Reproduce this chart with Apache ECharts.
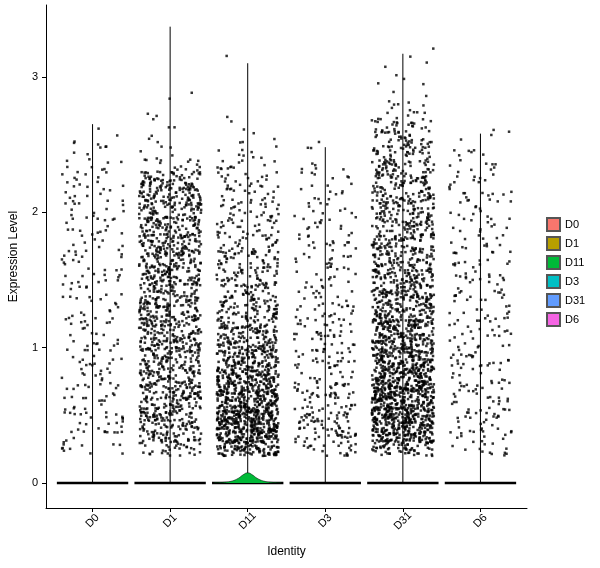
<!DOCTYPE html>
<html><head><meta charset="utf-8">
<script src="https://cdn.jsdelivr.net/npm/echarts@6/dist/echarts.min.js"></script>
<style>html,body{margin:0;padding:0;background:#fff}#c{width:600px;height:568px}</style>
</head><body><div id="c"></div>
<script>
const categories = ['D0','D1','D11','D3','D31','D6'];
const colors = ['#F8766D','#B79F00','#00BA38','#00BFC4','#619CFF','#F564E3'];
const yTicks = [0,1,2,3];
const binStart = 0.2, binWidth = 0.1;
// number of points per 0.1 bin, starting at 0.2
const countsD0  = [10,12,12,12,12,12,12,10,10,10,10,10,10,10,10,10,10,10,10,10,10,8,6,3,1];
const countsD1  = [30,55,60,65,65,65,65,65,65,65,65,65,65,65,65,65,65,65,65,65,60,15,4,3,3,2,2,0,0,0,0];
const countsD11 = [100,150,150,140,125,110,95,80,70,60,50,45,40,35,30,28,25,22,20,18,15,12,8,4,2,1,0,0,0,1];
const countsD3  = [20,30,30,25,22,20,18,18,16,15,15,14,13,12,12,12,11,10,9,8,7,5,2,1];
const countsD31 = [60,120,140,140,140,130,120,110,100,90,80,75,70,65,60,60,55,55,55,50,50,45,40,35,25,10,4,3,2,2,1];
const countsD6  = [12,15,15,15,15,14,14,13,13,13,12,12,12,12,12,11,11,10,10,10,10,8,6,3,1];
const violinMax = [2.65,3.37,3.1,2.48,3.17,2.58];
const d11HumpX = [-0.45,-0.3,-0.2,-0.12,-0.06,0,0.06,0.12,0.2,0.3,0.45];
const d11HumpY = [0,0.005,0.015,0.035,0.06,0.075,0.06,0.035,0.015,0.005,0];

// deterministic jitter placement (layout only)
function h(n){n=Math.imul(n^(n>>>16),0x45d9f3b);n=Math.imul(n^(n>>>16),0x45d9f3b);n^=n>>>16;return (n>>>0)/4294967296;}
const allCounts=[countsD0,countsD1,countsD11,countsD3,countsD31,countsD6];
const pts=[];
let k=1;
allCounts.forEach((cs,ci)=>{
  cs.forEach((n,b)=>{
    for(let i=0;i<n;i++){k++;
      pts.push([ci+(h(k*2+1)-0.5)*0.8, binStart+b*binWidth+h(k*2+7919)*binWidth]);
    }
  });
});
const series=[];
categories.forEach((c,i)=>{
  series.push({type:'line',data:[[i-0.46,0],[i+0.46,0]],symbol:'none',lineStyle:{color:'#000',width:2.5},silent:true,z:3});
  series.push({type:'line',data:[[i,0],[i,violinMax[i]]],symbol:'none',lineStyle:{color:'#000',width:1},silent:true,z:3});
});
series.push({type:'line',data:d11HumpX.map((x,j)=>[2+x,d11HumpY[j]]),symbol:'none',smooth:true,
  lineStyle:{color:'#000',width:0.5},areaStyle:{color:colors[2],opacity:1},z:4,silent:true});
series.push({type:'scatter',data:pts,symbol:'rect',symbolSize:2.5,itemStyle:{color:'#000'},z:5,silent:true,large:true});
categories.forEach((c,i)=>series.push({type:'bar',name:c,data:[],itemStyle:{color:colors[i],borderColor:'#555',borderWidth:0.5}}));

const chart=echarts.init(document.getElementById('c'),null,{renderer:'canvas'});
chart.setOption({
  animation:false,
  grid:{left:42,top:5,width:485,height:503},
  xAxis:{type:'value',min:-0.6,max:5.6,splitLine:{show:false},
    axisLine:{onZero:false,lineStyle:{color:'#000'}},
    axisTick:{customValues:[0,1,2,3,4,5],length:4,lineStyle:{color:'#000'}},
    axisLabel:{customValues:[0,1,2,3,4,5],formatter:v=>categories[Math.round(v)],rotate:45,align:'center',verticalAlign:'middle',color:'#000',fontSize:11,fontFamily:'Liberation Sans',margin:13},
    name:'Identity',nameLocation:'middle',nameGap:38,nameTextStyle:{fontSize:12,color:'#000',fontFamily:'Liberation Sans'}},
  yAxis:{type:'value',min:-0.185,max:3.53,splitLine:{show:false},
    axisLine:{onZero:false,lineStyle:{color:'#000'}},
    axisTick:{customValues:yTicks,length:4,lineStyle:{color:'#000'}},
    axisLabel:{customValues:yTicks,color:'#000',fontSize:11,fontFamily:'Liberation Sans',margin:8},
    name:'Expression Level',nameLocation:'middle',nameGap:26,nameTextStyle:{fontSize:12,color:'#000',fontFamily:'Liberation Sans'}},
  legend:{orient:'vertical',left:541,top:212,itemWidth:13,itemHeight:13,itemGap:4,icon:'rect',
    textStyle:{fontSize:11,color:'#000',fontFamily:'Liberation Sans'},data:categories},
  series
});
</script></body></html>
